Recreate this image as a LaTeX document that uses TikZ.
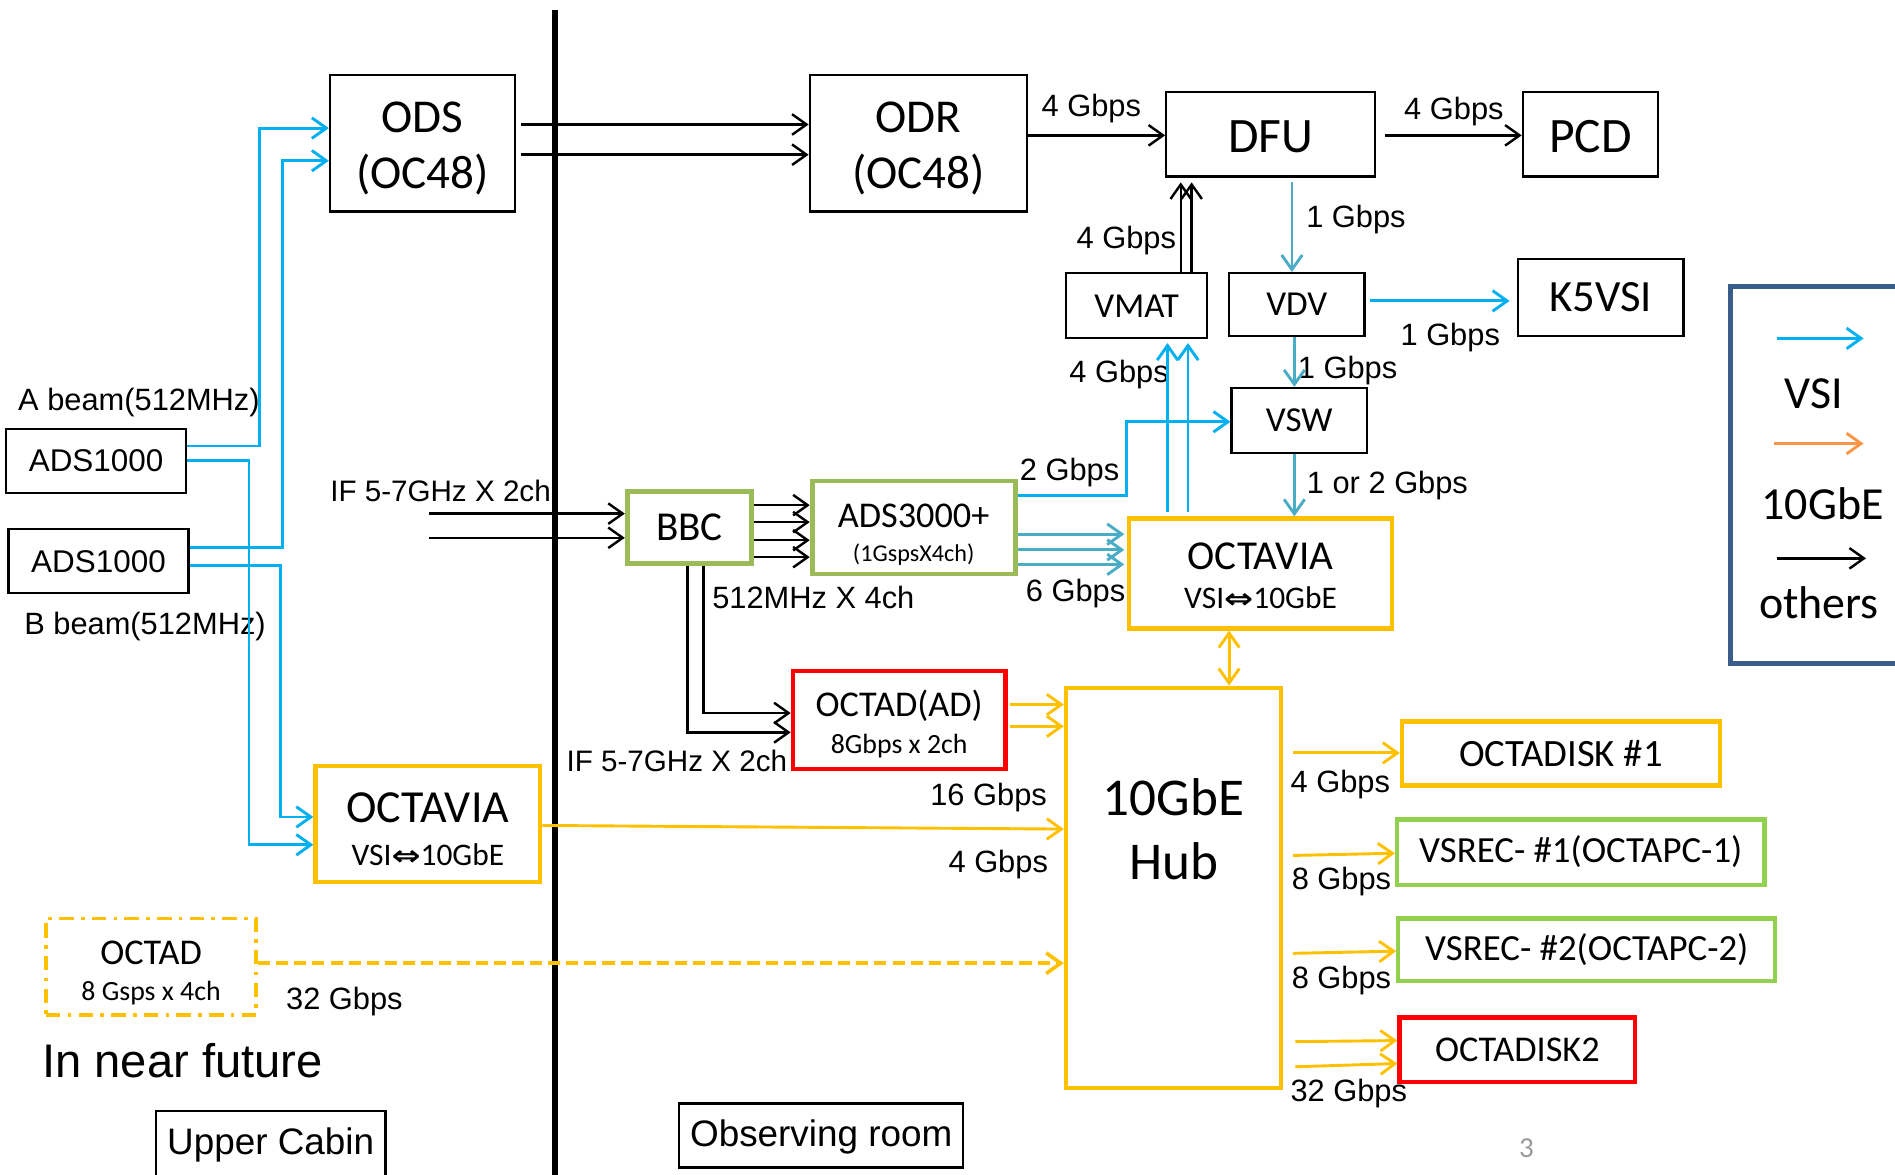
\documentclass[tikz,border=0pt]{standalone}
\usepackage{fontspec}
\usepackage{graphicx}
\setmainfont{Carlito}
\newfontfamily\arialf{Liberation Sans}
\newfontfamily\dejab{DejaVu Sans Bold}
\usetikzlibrary{arrows.meta,calc}
\definecolor{vsiblue}{HTML}{00B0F0}
\definecolor{tealb}{HTML}{4BACC6}
\definecolor{gold}{HTML}{FFC000}
\definecolor{oliveg}{HTML}{9BBB59}
\definecolor{lgreen}{HTML}{92D050}
\definecolor{legblue}{HTML}{385D8A}
\definecolor{lorange}{HTML}{F79646}
\newcommand{\fs}[2]{\fontsize{#1}{#2}\selectfont}
\newcommand{\dbl}{{\dejab\fs{23}{26}\scalebox{1.25}[1]{⇔}}}
\begin{document}
\begin{tikzpicture}[x=1pt,y=-1pt,
  bx/.style={draw, line width=1.8pt, inner sep=0pt, align=center},
  gbx/.style={bx, draw=oliveg, line width=4pt},
  obx/.style={bx, draw=gold, line width=3.5pt},
  rbx/.style={bx, draw=red, line width=3.5pt},
  lbx/.style={bx, draw=lgreen, line width=3.5pt},
  tip/.style={-{Straight Barb[length=12pt,width=17pt]}},
  blk/.style={draw=black, line width=2pt, tip},
  cy/.style={draw=vsiblue, line width=2.4pt, tip},
  tl/.style={draw=tealb, line width=2.4pt, tip},
  og/.style={draw=gold, line width=2.4pt, tip},
  rt/.style={font=\arialf\fs{25.5}{30}, inner sep=0pt, yshift=-2pt}
]
\useasboundingbox (0,0) rectangle (1568,972);
\fill[white] (0,0) rectangle (1568,972);
\clip (0,0) rectangle (1568,972);

% divider
\draw[line width=5pt] (459,8) -- (459,980);

% boxes
\node[bx, minimum width=153, minimum height=113, font=\fs{39}{47}] (ODS) at (349.5,118.5) {\rule{0pt}{34pt}ODS\\(OC48)};
\node[bx, minimum width=180, minimum height=113, font=\fs{39}{47}] (ODR) at (760,118.5) {\rule{0pt}{34pt}ODR\\(OC48)};
\node[bx, minimum width=173, minimum height=70, font=\fs{41}{48}] (DFU) at (1051.5,111) {\rule{0pt}{30pt}DFU};
\node[bx, minimum width=112, minimum height=70, font=\fs{41}{48}] (PCD) at (1316,111) {\rule{0pt}{30pt}PCD};
\node[bx, minimum width=137, minimum height=64, font=\fs{37}{44}] (K5) at (1324.5,246) {K5VSI};
\node[bx, minimum width=117, minimum height=54, font=\fs{29}{34}] (VMAT) at (940.5,253) {VMAT};
\node[bx, minimum width=112, minimum height=52, font=\fs{29}{34}] (VDV) at (1073,252) {VDV};
\node[bx, minimum width=112, minimum height=54, font=\fs{29}{34}] (VSW) at (1075,348) {VSW};
\node[obx, minimum width=218, minimum height=91, font=\fs{34}{32}] (OCTR) at (1043,474.5) {\rule{0pt}{26pt}OCTAVIA\\{\fs{26}{30}VSI\dbl10GbE}};
\node[gbx, minimum width=103, minimum height=59, font=\fs{34}{40}] (BBC) at (570.5,436.5) {BBC};
\node[gbx, minimum width=168, minimum height=77, font=\fs{30}{28}] (ADS3) at (756,436.5) {\rule{0pt}{31pt}ADS3000+\\{\fs{20}{24}(1GspsX4ch)}};
\node[bx, minimum width=149, minimum height=53, font=\arialf\fs{26}{30}] (ADSA) at (79.5,381.5) {ADS1000};
\node[bx, minimum width=149, minimum height=53, font=\arialf\fs{26}{30}] (ADSB) at (81.5,464.5) {ADS1000};
\node[obx, minimum width=186, minimum height=96, font=\fs{38}{35}] (OCTL) at (354,682) {\rule{0pt}{33pt}OCTAVIA\\{\fs{26}{30}VSI\dbl10GbE}};
\node[rbx, minimum width=176, minimum height=81, font=\fs{30}{30}] (OCTADAD) at (744,595.5) {\rule{0pt}{29pt}OCTAD(AD)\\{\fs{23}{27}8Gbps x 2ch}};
\node[obx, minimum width=178, minimum height=331] (Hub) at (971,734.5) {};
\node[font=\fs{44}{53}, align=center, inner sep=0pt] (hubtxt) at (971,686) {10GbE\\Hub};
\node[obx, minimum width=263, minimum height=53, font=\fs{32}{38}] (OD1) at (1291.5,623.5) {OCTADISK \#1};
\node[lbx, minimum width=304, minimum height=54, font=\fs{30.5}{36}] (VS1) at (1308,705) {VSREC- \#1(OCTAPC-1)};
\node[lbx, minimum width=312, minimum height=52, font=\fs{30.5}{36}] (VS2) at (1313,786) {VSREC- \#2(OCTAPC-2)};
\node[rbx, minimum width=195, minimum height=53, font=\fs{30}{36}] (OD2) at (1255.5,868.5) {OCTADISK2};
\node[bx, draw=gold, line width=3pt, dash pattern=on 12pt off 6pt on 3pt off 6pt, minimum width=174, minimum height=80, font=\fs{30}{30}] (OCTAD) at (125,800) {\rule{0pt}{30pt}OCTAD\\{\fs{23}{27}8 Gsps x 4ch}};
\node[bx, minimum width=190, minimum height=100] (UC) at (224,969) {};
\node[font=\arialf\fs{30.5}{36}, inner sep=0pt] (uctxt) at (224,947) {Upper Cabin};
\node[bx, minimum width=235, minimum height=53, font=\arialf\fs{30.5}{36}] (OR) at (679.5,939.5) {\rule{0pt}{25pt}Observing room};

% legend
\node[draw=legblue, line width=4pt, minimum width=148, minimum height=312, inner sep=0pt] (leg) at (1506,393) {};
\coordinate (l1a) at (1470,280); \coordinate (l1b) at (1542,280);
\coordinate (l2a) at (1468,367); \coordinate (l2b) at (1542,367);
\coordinate (l3a) at (1470,462); \coordinate (l3b) at (1544,462);
\draw[cy] (l1a) -- (l1b);
\draw[og, draw=lorange] (l2a) -- (l2b);
\draw[blk] (l3a) -- (l3b);
\node[font=\fs{38}{44}, inner sep=0pt] (lvsi) at (1501,326) {VSI};
\node[font=\fs{38}{44}, inner sep=0pt] (lgbe) at (1508,417) {10GbE};
\node[font=\fs{38}{44}, inner sep=0pt] (loth) at (1505,499) {others};

% labels
\node[rt] (la) at (115,331) {A beam(512MHz)};
\node[rt] (lb) at (120,516) {B beam(512MHz)};
\node[font=\arialf\fs{39}{46}, inner sep=0pt] (lfut) at (151,878) {In near future};
\node[font=\fs{24}{28}, text=black!40, inner sep=0pt] (pg) at (1263,950) {3};
\node[rt] (r1) at (903,88) {4 Gbps};
\node[rt] (r2) at (1203,90) {4 Gbps};
\node[rt] (r3) at (932,197) {4 Gbps};
\node[rt] (r4) at (1122,180) {1 Gbps};
\node[rt] (r5) at (1200,277) {1 Gbps};
\node[rt] (r6) at (1115,305) {1 Gbps};
\node[rt] (r7) at (926,308) {4 Gbps};
\node[rt] (r8) at (885,389) {2 Gbps};
\node[rt] (r9) at (1148,400) {1 or 2 Gbps};
\node[rt] (r10) at (890,489) {6 Gbps};
\node[rt, font=\arialf\fs{24.5}{30}] (r11) at (364.5,404) {IF 5-7GHz X 2ch};
\node[rt] (r12) at (673,492) {512MHz X 4ch};
\node[rt, font=\arialf\fs{24.5}{30}] (r13) at (560,628) {IF 5-7GHz X 2ch};
\node[rt] (r14) at (818,658) {16 Gbps};
\node[rt] (r15) at (826,713) {4 Gbps};
\node[rt] (r16) at (285,827) {32 Gbps};
\node[rt] (r17) at (1109,647) {4 Gbps};
\node[rt] (r18) at (1110,727) {8 Gbps};
\node[rt] (r19) at (1110,809) {8 Gbps};
\node[rt] (r20) at (1116,903) {32 Gbps};

% cyan VSI connectors from ADS1000
\draw[cy] (ADSA.east |- 0,369) -| (215,106) -- (ODS.west |- 0,106);
\draw[cy] (ADSA.east |- 0,381) -| (206,699) -- (OCTL.west |- 0,699);
\draw[cy] (ADSB.east |- 0,453) -| (234,133) -- (ODS.west |- 0,133);
\draw[cy] (ADSB.east |- 0,468) -| (232,676) -- (OCTL.west |- 0,676);

% black
\draw[blk, shorten <=4pt] (ODS.east |- 0,103) -- (ODR.west |- 0,103);
\draw[blk, shorten <=4pt] (ODS.east |- 0,128) -- (ODR.west |- 0,128);
\draw[blk] (ODR.east |- 0,112) -- (DFU.west |- 0,112);
\draw[blk, shorten <=7pt] (DFU.east |- 0,112) -- (PCD.west |- 0,112);
\draw[blk, shorten >=4pt] (VMAT.north -| 977,0) -- (DFU.south -| 977,0);
\draw[blk, shorten >=4pt] (VMAT.north -| 986,0) -- (DFU.south -| 986,0);
\coordinate (if1) at (355,425);
\coordinate (if2) at (355,445);
\draw[blk] (if1) -- (BBC.west |- if1);
\draw[blk] (if2) -- (BBC.west |- if2);
\foreach \yy in {418,432,447,461}
  \draw[blk] (BBC.east |- 0,\yy) -- (ADS3.west |- 0,\yy);
\draw[blk] (BBC.south -| 569,0) |- (OCTADAD.west |- 0,606);
\draw[blk] (BBC.south -| 582,0) |- (OCTADAD.west |- 0,590);

% VSI right part
\draw[tl, shorten <=4pt] (DFU.south -| 1069,0) -- (VDV.north -| 1069,0);
\draw[cy, shorten <=4pt, shorten >=6pt] (VDV.east |- 0,249) -- (K5.west |- 0,249);
\draw[tl] (VDV.south -| 1071,0) -- (VSW.north -| 1071,0);
\draw[tl] (VSW.south -| 1071,0) -- (OCTR.north -| 1071,0);
\draw[cy] (ADS3.east |- 0,410) -| (932,349) -- (VSW.west |- 0,349);
\draw[cy, shorten <=4pt, shorten >=3pt] (OCTR.north -| 966,0) -- (VMAT.south -| 966,0);
\draw[cy, shorten <=4pt, shorten >=3pt] (OCTR.north -| 983,0) -- (VMAT.south -| 983,0);
\foreach \yy in {442,455,467}
  \draw[tl, shorten >=2pt] (ADS3.east |- 0,\yy) -- (OCTR.west |- 0,\yy);

% 10GbE
\draw[og, shorten <=2pt] (OCTADAD.east |- 0,583) -- (Hub.west |- 0,583);
\draw[og, shorten <=2pt] (OCTADAD.east |- 0,601) -- (Hub.west |- 0,601);
\draw[og] (OCTL.east |- 0,683) -- (Hub.west |- 0,686);
\draw[og, line width=3pt, dash pattern=on 10pt off 5pt] (OCTAD.east |- 0,797) -- (Hub.west |- 0,797);
\draw[draw=gold, line width=2.4pt, {Straight Barb[length=12pt,width=17pt]}-{Straight Barb[length=12pt,width=17pt]}] (OCTR.south -| 1017,0) -- (Hub.north -| 1017,0);
\draw[og, shorten <=8pt] (Hub.east |- 0,623) -- (OD1.west |- 0,623);
\draw[og, shorten <=8pt] (Hub.east |- 0,708) -- (VS1.west |- 0,706);
\draw[og, shorten <=8pt] (Hub.east |- 0,789) -- (VS2.west |- 0,787);
\draw[og, shorten <=10pt] (Hub.east |- 0,862) -- (OD2.west |- 0,861);
\draw[og, shorten <=10pt] (Hub.east |- 0,883) -- (OD2.west |- 0,880);
\end{tikzpicture}
\end{document}
